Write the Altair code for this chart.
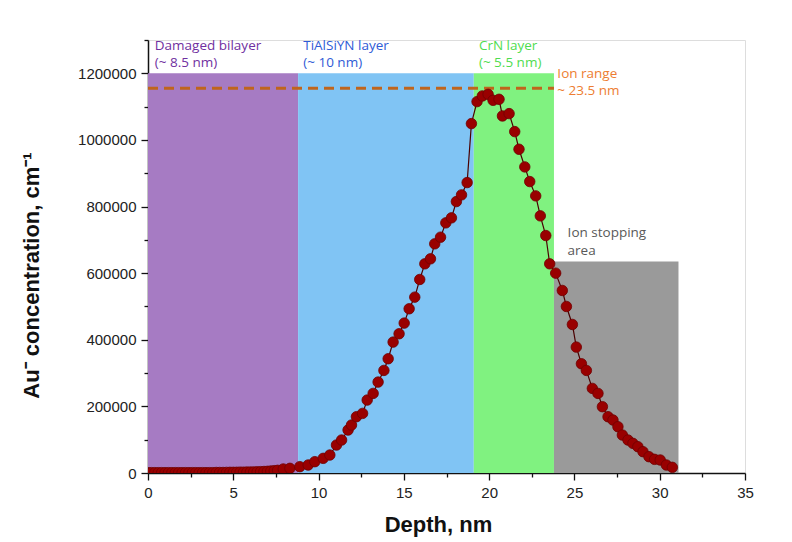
import altair as alt
import pandas as pd

# Au- implantation profile (depth in nm, concentration in cm^-1)
depth = [
    0.0, 0.2, 0.4, 0.6, 0.8, 1.0, 1.2, 1.4, 1.6, 1.8, 2.0, 2.2, 2.4, 2.6, 2.8,
    3.0, 3.2, 3.4, 3.6, 3.8, 4.0, 4.2, 4.4, 4.6, 4.8, 5.0, 5.2, 5.4, 5.6, 5.8,
    6.0, 6.2, 6.4, 6.6, 6.8, 7.0, 7.2, 7.4, 7.6,
    7.93, 8.32, 8.9, 9.39, 9.78, 10.27, 10.66, 11.05, 11.35, 11.73, 11.93,
    12.22, 12.58, 12.85, 13.2, 13.49, 13.83, 14.08, 14.37, 14.72, 15.02,
    15.31, 15.64, 15.93, 16.23, 16.56, 16.81, 17.15, 17.46, 17.79, 18.08,
    18.38, 18.71, 18.96, 19.29, 19.6, 19.94, 20.23, 20.58, 20.78, 21.17,
    21.5, 21.75, 22.09, 22.38, 22.73, 23.0, 23.32, 23.55, 23.9, 24.29,
    24.53, 24.88, 25.11, 25.41, 25.7, 26.05, 26.38, 26.64, 26.97, 27.26,
    27.55, 27.81, 28.14, 28.43, 28.72, 29.02, 29.37, 29.7, 30.03, 30.39, 30.74,
]
concentration = [
    1000, 1000, 1000, 1000, 1000, 1000, 1000, 1000, 1000, 1000, 1000, 1000,
    1000, 1000, 1000, 1000, 1000, 1000, 1000, 1000, 1500, 1500, 1500, 1800,
    2000, 2000, 2200, 2500, 2500, 2800, 3000, 3200, 3500, 4000, 4500, 5000,
    6000, 7000, 8000,
    12000, 14000, 19000, 24000, 34000, 44000, 54000, 84000, 99000, 129000,
    144000, 169000, 179000, 219000, 239000, 273000, 308000, 343000, 393000,
    418000, 450000, 493000, 528000, 581000, 628000, 643000, 688000, 708000,
    751000, 766000, 815000, 835000, 872000, 1049000, 1115000, 1132000,
    1137000, 1119000, 1122000, 1072000, 1079000, 1025000, 972000, 919000,
    875000, 832000, 772000, 713000, 628000, 600000, 548000, 500000, 446000,
    378000, 328000, 308000, 254000, 239000, 199000, 169000, 159000, 139000,
    114000, 99000, 89000, 79000, 64000, 49000, 41000, 39000, 24000, 17000,
]

# Layer zones of the coating stack
zone_start = [0.0, 8.8, 19.1, 23.8]
zone_end = [8.8, 19.1, 23.8, 31.1]
zone_top = [1200000, 1200000, 1200000, 635000]
zone_color = ["#a67bc3", "#80c4f4", "#80f280", "#9a9a9a"]

# Projected ion range
ion_range_conc = 1155000
ion_range_end = 23.8

# Annotations
note_text = [
    "Damaged bilayer", "(~ 8.5 nm)",
    "TiAlSiYN layer", "(~ 10 nm)",
    "CrN layer", "(~ 5.5 nm)",
    "Ion range", "~ 23.5 nm",
    "Ion stopping", "area",
]
note_x = [0.4, 0.4, 9.1, 9.1, 19.4, 19.4, 24.0, 24.0, 24.6, 24.6]
note_y = [1281000, 1230000, 1281000, 1230000, 1281000, 1230000,
          1198000, 1147000, 722000, 668000]
note_color = ["#7030a0", "#7030a0", "#2f5bd6", "#2f5bd6", "#4fdc4f", "#4fdc4f",
              "#ed7d31", "#ed7d31", "#595959", "#595959"]

x_ticks = [i * 2.5 for i in range(15)]
y_ticks = [i * 100000 for i in range(14)]

profile = pd.DataFrame({"depth": depth, "conc": concentration})
zones = pd.DataFrame({"x": zone_start, "x2": zone_end, "y": [0] * 4,
                      "y2": zone_top, "color": zone_color})
ion_range = pd.DataFrame({"x": [0.0], "x2": [ion_range_end], "y": [ion_range_conc]})
notes = pd.DataFrame({"x": note_x, "y": note_y, "text": note_text, "color": note_color})

x_scale = alt.Scale(domain=[0, 35], nice=False, zero=False)
y_scale = alt.Scale(domain=[0, 1300000], nice=False)

axis_common = dict(
    domainColor="#111", domainWidth=1.5, tickColor="#111", tickWidth=1.3,
    labelFont="Liberation Sans", labelFontSize=15, labelColor="#222",
    labelFlush=False,
    titleFont="Liberation Sans", titleFontSize=22, titleFontWeight="bold",
    titleColor="#111", grid=False,
)
x_axis = alt.Axis(
    values=x_ticks, title="Depth, nm",
    labelExpr="datum.value % 5 === 0 ? datum.label : ''",
    tickSize={"condition": {"test": "datum.value % 5 === 0", "value": 7}, "value": 4},
    labelPadding=5, titleX=290, titleY=51, titleBaseline="middle",
    **axis_common,
)
y_axis = alt.Axis(
    values=y_ticks, title="Au⁻ concentration, cm⁻¹", format="d",
    labelExpr="datum.value % 200000 === 0 ? datum.label : ''",
    tickSize={"condition": {"test": "datum.value % 200000 === 0", "value": 7}, "value": 4},
    labelPadding=5, titleX=-117, titleY=235, titleBaseline="middle",
    **axis_common,
)

X = lambda f: alt.X(f, type="quantitative", scale=x_scale, axis=x_axis)
Y = lambda f: alt.Y(f, type="quantitative", scale=y_scale, axis=y_axis)

zone_layer = alt.Chart(zones).mark_rect(opacity=1).encode(
    x=X("x"), x2="x2", y=Y("y"), y2="y2",
    color=alt.Color("color:N", scale=None),
)

range_layer = alt.Chart(ion_range).mark_rule(
    color="#c0651c", strokeWidth=3, strokeDash=[10, 6]
).encode(x=X("x"), x2="x2", y=Y("y"))

line_layer = alt.Chart(profile).mark_line(
    color="#4a0000", strokeWidth=1.2, clip=True
).encode(x=X("depth"), y=Y("conc"))

point_layer = alt.Chart(profile).mark_point(
    filled=True, size=110, color="#990000", opacity=1,
    stroke="#6e0000", strokeWidth=0.8, clip=True
).encode(x=X("depth"), y=Y("conc"))

note_layer = alt.Chart(notes).mark_text(
    align="left", baseline="middle", font="Open Sans", fontSize=13.5
).encode(
    x=X("x"), y=Y("y"), text="text:N",
    color=alt.Color("color:N", scale=None),
)

chart = alt.layer(
    zone_layer, range_layer, line_layer, point_layer, note_layer
).properties(
    width=597, height=433,
    autosize=alt.AutoSizeParams(type="none"),
    padding={"left": 148, "top": 40, "right": 47, "bottom": 69},
).configure_view(stroke=None).configure(background="white")

chart.save("out.html", embed_options={"renderer": "svg", "actions": False})
